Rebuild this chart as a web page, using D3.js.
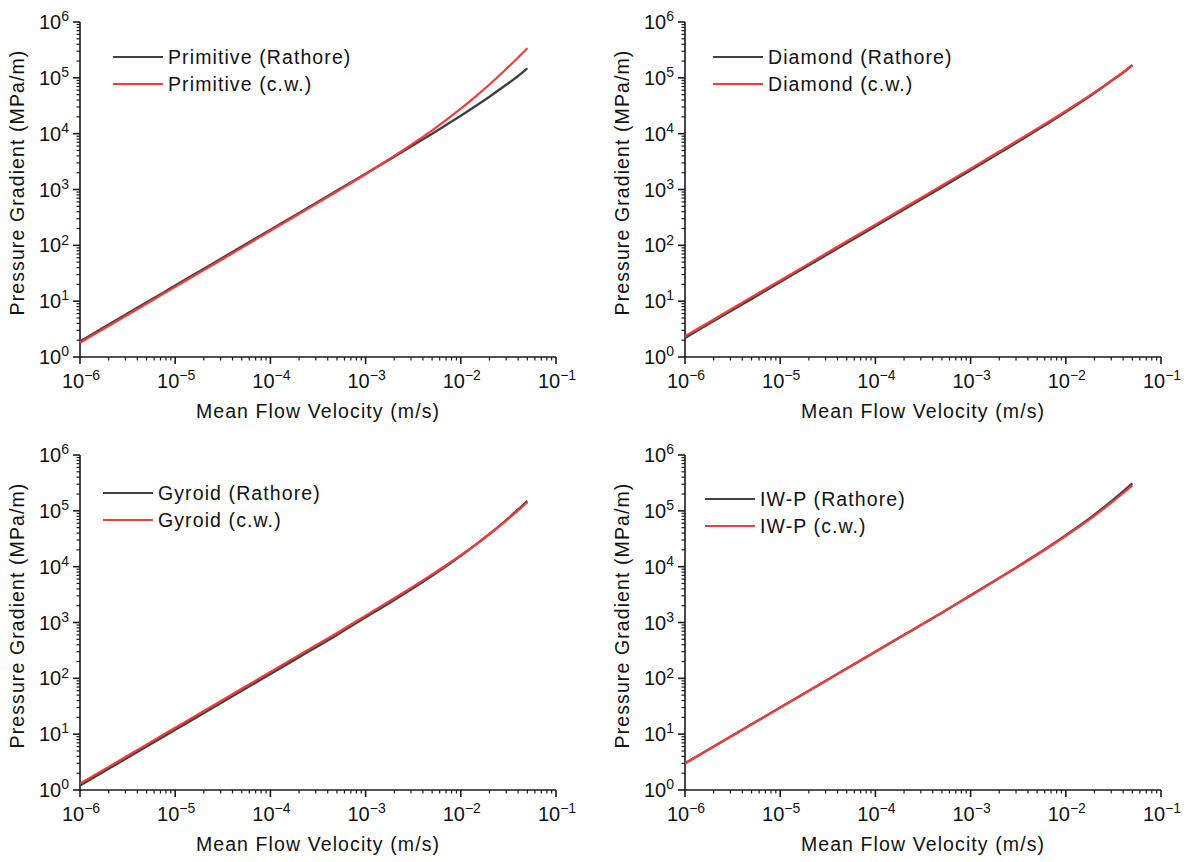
<!DOCTYPE html>
<html>
<head>
<meta charset="utf-8">
<script src="https://cdn.jsdelivr.net/npm/d3@7"></script>
<style>
  html, body { margin: 0; padding: 0; background: #fff; }
  svg { display: block; font-family: "Liberation Sans", Arial, sans-serif; }
</style>
</head>
<body>
<svg id="chart" width="1188" height="862"></svg>
<script>
// Mean flow velocity samples (m/s)
const velocity = [1e-6, 2e-6, 5e-6, 1e-5, 2e-5, 5e-5, 1e-4, 2e-4, 5e-4, 1e-3,
                  2e-3, 3e-3, 5e-3, 7e-3, 1e-2, 1.5e-2, 2e-2, 3e-2, 4e-2, 5e-2];

// Pressure gradient (MPa/m) for each lattice
const primitiveRathore = [1.9, 3.8, 9.5, 19, 38, 95, 190, 380, 955, 1920,
                          3880, 5880, 10000, 14300, 21000, 33000, 46000, 75000, 108000, 148000];
const primitiveCW      = [1.8, 3.6, 9, 18, 36, 90, 182, 365, 920, 1880,
                          4000, 6300, 11500, 17500, 28000, 49500, 76000, 144000, 232000, 340000];

const diamondRathore   = [2.2, 4.4, 11, 22, 44, 110, 220, 440, 1100, 2220,
                          4500, 6800, 11600, 16600, 24400, 38400, 53600, 87600, 124000, 170000];
const diamondCW        = [2.35, 4.7, 11.8, 23.5, 47, 118, 235, 470, 1180, 2370,
                          4780, 7230, 12300, 17400, 25500, 39800, 55000, 88500, 126000, 167500];

const gyroidRathore    = [1.2, 2.4, 6, 12, 24, 60, 120, 240, 600, 1240,
                          2540, 3920, 6900, 10160, 15600, 26100, 38400, 68400, 105600, 150000];
const gyroidCW         = [1.3, 2.6, 6.5, 13, 26, 65, 130, 260, 650, 1330,
                          2720, 4180, 7280, 10600, 16100, 26500, 38400, 66900, 101600, 142500];

const iwpRathore       = [3, 6, 15, 30, 60, 150, 300, 600, 1500, 3060,
                          6260, 9580, 16600, 24100, 36400, 59400, 85600, 147600, 222400, 310000];
const iwpCW            = [3, 6, 15, 30, 60, 150, 300, 600, 1500, 3050,
                          6220, 9490, 16350, 23650, 35400, 57150, 81600, 138600, 206400, 285000];

// Axis tick exponents
const xTickExponents = [-6, -5, -4, -3, -2, -1];
const yTickExponents = [0, 1, 2, 3, 4, 5, 6];

const xTitle = "Mean Flow Velocity (m/s)";
const yTitle = "Pressure Gradient (MPa/m)";

const panels = [
  { name: "Primitive", ref: primitiveRathore, cw: primitiveCW, left: 80,  top: 22,  legendX: 113, legendY: 57 },
  { name: "Diamond",   ref: diamondRathore,   cw: diamondCW,   left: 685, top: 22,  legendX: 713, legendY: 57 },
  { name: "Gyroid",    ref: gyroidRathore,    cw: gyroidCW,    left: 80,  top: 455, legendX: 103, legendY: 493 },
  { name: "IW-P",      ref: iwpRathore,       cw: iwpCW,       left: 685, top: 455, legendX: 705, legendY: 499 }
];

const plotW = 476, plotH = 335;
const colRef = "#404040", colCW = "#f23c3c", axisCol = "#1a1a1a", textCol = "#111";

const svg = d3.select("#chart");

function supLabel(sel, exp) {
  sel.append("tspan").text("10");
  sel.append("tspan")
    .attr("dy", "-0.55em")
    .attr("font-size", "14px")
    .text(exp < 0 ? "\u2212" + Math.abs(exp) : String(exp));
}

panels.forEach(p => {
  const g = svg.append("g").attr("transform", `translate(${p.left},${p.top})`);

  const x = d3.scaleLog().domain([1e-6, 1e-1]).range([0, plotW]);
  const y = d3.scaleLog().domain([1, 1e6]).range([plotH, 0]);

  // minor ticks at 2..9 of each decade
  const xMinor = [], yMinor = [];
  for (let e = -6; e < -1; e++) for (let k = 2; k <= 9; k++) xMinor.push(k * Math.pow(10, e));
  for (let e = 0; e < 6; e++) for (let k = 2; k <= 9; k++) yMinor.push(k * Math.pow(10, e));

  const xAxis = g.append("g").attr("transform", `translate(0,${plotH})`);
  xAxis.append("line").attr("x1", 0).attr("x2", plotW).attr("stroke", axisCol).attr("stroke-width", 1.6);
  xAxis.selectAll(".mn").data(xMinor).join("line")
    .attr("x1", d => x(d)).attr("x2", d => x(d)).attr("y1", 0).attr("y2", 3.5)
    .attr("stroke", axisCol).attr("stroke-width", 1.2);
  xAxis.selectAll(".mj").data(xTickExponents).join("line")
    .attr("x1", d => x(Math.pow(10, d))).attr("x2", d => x(Math.pow(10, d))).attr("y1", 0).attr("y2", 7)
    .attr("stroke", axisCol).attr("stroke-width", 1.6);
  xAxis.selectAll(".xl").data(xTickExponents).join("text")
    .attr("x", d => x(Math.pow(10, d)) + 1).attr("y", 31)
    .attr("text-anchor", "middle").attr("font-size", "20px").attr("fill", textCol)
    .each(function (d) { supLabel(d3.select(this), d); });

  const yAxis = g.append("g");
  yAxis.append("line").attr("y1", 0).attr("y2", plotH).attr("stroke", axisCol).attr("stroke-width", 1.6);
  yAxis.selectAll(".mn").data(yMinor).join("line")
    .attr("y1", d => y(d)).attr("y2", d => y(d)).attr("x1", 0).attr("x2", -3.5)
    .attr("stroke", axisCol).attr("stroke-width", 1.2);
  yAxis.selectAll(".mj").data(yTickExponents).join("line")
    .attr("y1", d => y(Math.pow(10, d))).attr("y2", d => y(Math.pow(10, d))).attr("x1", 0).attr("x2", -7)
    .attr("stroke", axisCol).attr("stroke-width", 1.6);
  yAxis.selectAll(".yl").data(yTickExponents).join("text")
    .attr("x", -11).attr("y", d => y(Math.pow(10, d)) + 7)
    .attr("text-anchor", "end").attr("font-size", "20px").attr("fill", textCol)
    .each(function (d) { supLabel(d3.select(this), d); });

  // axis titles
  g.append("text").attr("x", plotW / 2).attr("y", plotH + 61)
    .attr("text-anchor", "middle").attr("font-size", "19.5px").attr("letter-spacing", "1.1px")
    .attr("fill", textCol).text(xTitle);
  g.append("text")
    .attr("transform", `translate(${-56},${plotH / 2 - 7}) rotate(-90)`)
    .attr("text-anchor", "middle").attr("font-size", "19.5px").attr("letter-spacing", "1.1px")
    .attr("fill", textCol).text(yTitle);

  // curves
  const line = d3.line().x((d, i) => x(velocity[i])).y(d => y(d)).curve(d3.curveMonotoneX);
  g.append("path").datum(p.ref).attr("d", line).attr("fill", "none")
    .attr("stroke", colRef).attr("stroke-width", 2.4);
  g.append("path").datum(p.cw).attr("d", line).attr("fill", "none")
    .attr("stroke", colCW).attr("stroke-width", 2.2);

  // legend
  const lg = svg.append("g").attr("transform", `translate(${p.legendX},${p.legendY})`);
  const items = [{ label: `${p.name} (Rathore)`, col: colRef }, { label: `${p.name} (c.w.)`, col: colCW }];
  items.forEach((it, i) => {
    lg.append("line").attr("x1", 0).attr("x2", 50).attr("y1", i * 27).attr("y2", i * 27)
      .attr("stroke", it.col).attr("stroke-width", 2.2);
    lg.append("text").attr("x", 55).attr("y", i * 27 + 6.5).attr("font-size", "19.5px")
      .attr("letter-spacing", "1.1px").attr("fill", textCol).text(it.label);
  });
});
</script>
</body>
</html>
